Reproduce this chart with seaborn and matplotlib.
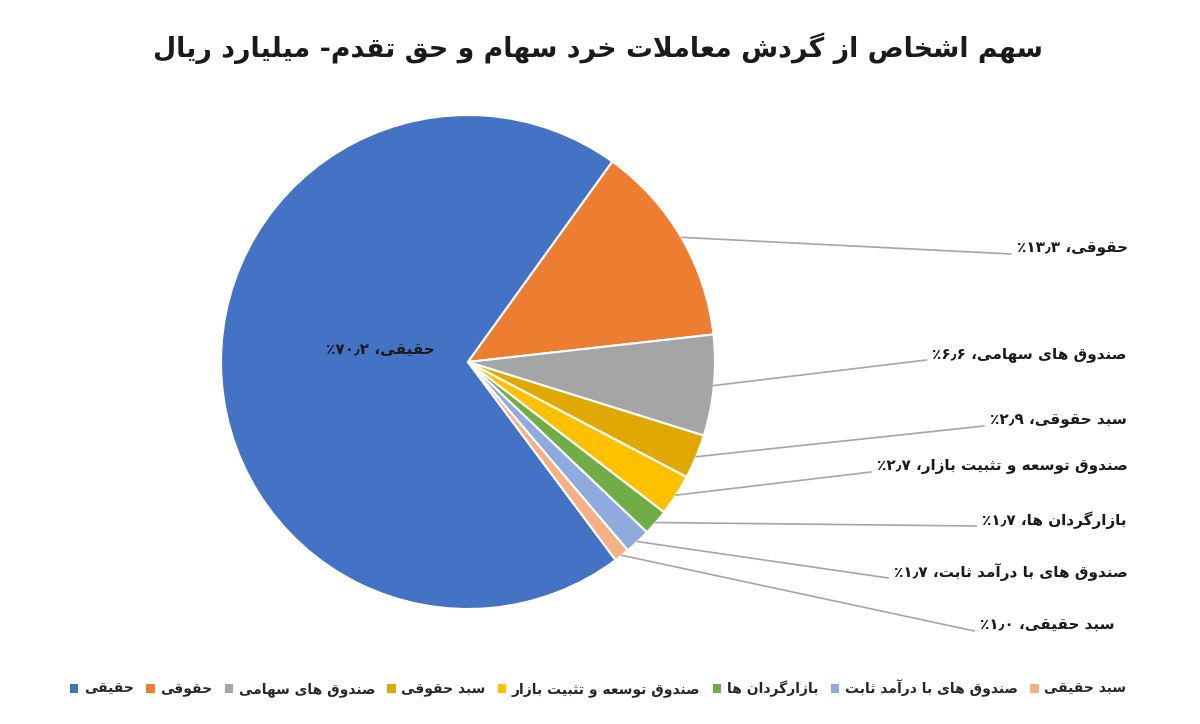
import re
import matplotlib
matplotlib.use("Agg")
import matplotlib.pyplot as plt
from matplotlib.patches import Patch
import numpy as np
import seaborn as sns

# --- data ---------------------------------------------------------------
title = "سهم اشخاص از گردش معاملات خرد سهام و حق تقدم- میلیارد ریال"
categories = ["حقیقی", "حقوقی", "صندوق های سهامی", "سبد حقوقی",
              "صندوق توسعه و تثبیت بازار", "بازارگردان ها",
              "صندوق های با درآمد ثابت", "سبد حقیقی"]
shares = [70.2, 13.3, 6.6, 2.9, 2.7, 1.7, 1.7, 1.0]
colors = ["#4472C4", "#ED7D31", "#A5A5A5", "#E0A800",
          "#FFC000", "#70AD47", "#8FAADC", "#F4B183"]

# label layout for the outer labels (pixel y from the top, right edge x)
label_y = [248, 354, 420, 466, 520, 572, 625]
label_right = [1128, 1127, 1127, 1128, 1127, 1128, 1115]

W, H = 1200, 724

# --- minimal arabic/persian shaping (matplotlib has no bidi/shaping) ----
DUAL = {'ب': 0xFE8F, 'پ': 0xFB56, 'ت': 0xFE95, 'ث': 0xFE99, 'ج': 0xFE9D,
        'چ': 0xFB7A, 'ح': 0xFEA1, 'خ': 0xFEA5, 'س': 0xFEB1, 'ش': 0xFEB5,
        'ص': 0xFEB9, 'ض': 0xFEBD, 'ط': 0xFEC1, 'ظ': 0xFEC5, 'ع': 0xFEC9,
        'غ': 0xFECD, 'ف': 0xFED1, 'ق': 0xFED5, 'ک': 0xFB8E, 'گ': 0xFB92,
        'ل': 0xFEDD, 'م': 0xFEE1, 'ن': 0xFEE5, 'ه': 0xFEE9, 'ی': 0xFBFC}
RIGHT = {'ا': 0xFE8D, 'آ': 0xFE81, 'د': 0xFEA9, 'ذ': 0xFEAB, 'ر': 0xFEAD,
         'ز': 0xFEAF, 'ژ': 0xFB8A, 'و': 0xFEED}


def shape(s):
    out = []
    i = 0
    while i < len(s):
        c = s[i]
        prev_join = i > 0 and s[i - 1] in DUAL
        if c == 'ل' and i + 1 < len(s) and s[i + 1] in ('ا', 'آ'):
            out.append(chr(0xFEFC if prev_join else 0xFEFB))
            i += 2
            continue
        if c in DUAL:
            next_join = i + 1 < len(s) and (s[i + 1] in DUAL or s[i + 1] in RIGHT)
            off = {(False, False): 0, (True, False): 1,
                   (False, True): 2, (True, True): 3}[(prev_join, next_join)]
            out.append(chr(DUAL[c] + off))
        elif c in RIGHT:
            out.append(chr(RIGHT[c] + (1 if prev_join else 0)))
        else:
            out.append(c)
        i += 1
    return ''.join(out)


def rtl(s):
    vis = shape(s)[::-1]
    return re.sub(r'[۰-۹٫]+', lambda m: m.group(0)[::-1], vis)


def fa_num(v):
    return f"{v:.1f}".translate(str.maketrans("0123456789.", "۰۱۲۳۴۵۶۷۸۹٫"))


sns.set_theme(style="white")
plt.rcParams['font.family'] = ['DejaVu Sans']

fig = plt.figure(figsize=(W / 100, H / 100), dpi=100)
ax = fig.add_axes([0, 0, 1, 1])

cx, cy, r = 468, H - 362, 247
wedges, _ = ax.pie(shares, colors=sns.color_palette(colors), startangle=90 - 143.3,
                   counterclock=False, center=(cx, cy), radius=r,
                   wedgeprops=dict(edgecolor="white", linewidth=1.5))
ax.set_xlim(0, W)
ax.set_ylim(0, H)
ax.set_aspect('equal')
ax.axis('off')

# inside label for the big slice
ax.text(380, H - 350, rtl(f"{categories[0]}، {fa_num(shares[0])}٪"),
        ha='center', va='center', fontsize=11, fontweight='bold', color='#1a1a1a')

# outer labels with leader lines
texts = []
for k in range(1, len(shares)):
    t = ax.text(label_right[k - 1], H - label_y[k - 1],
                rtl(f"{categories[k]}، {fa_num(shares[k])}٪"),
                ha='right', va='center', fontsize=11, fontweight='bold', color='#1a1a1a')
    texts.append(t)

fig.canvas.draw()
renderer = fig.canvas.get_renderer()
for k, t in enumerate(texts, start=1):
    w = wedges[k]
    mid = np.deg2rad((w.theta1 + w.theta2) / 2)
    x0, y0 = cx + r * np.cos(mid), cy + r * np.sin(mid)
    bb = t.get_window_extent(renderer)
    x1, y1 = bb.x0 - 6, H - label_y[k - 1] - 6
    ax.plot([x0, x1], [y0, y1], color='#a6a6a6', lw=1.2)

fig.text(598 / W, 1 - 48 / H, rtl(title), ha='center', va='center',
         fontsize=19.3, fontweight='bold', color='#1a1a1a')

handles = [Patch(facecolor=c, edgecolor='none') for c in colors]
labels = [rtl(c) for c in categories]
fig.legend(handles, labels, loc='center', bbox_to_anchor=(598 / W, 1 - 688 / H),
           ncol=8, frameon=False, handlelength=0.6, handleheight=0.6,
           handletextpad=0.4, columnspacing=0.9, prop=dict(size=10, weight='bold'))

fig.savefig("out.png", dpi=100, facecolor='white')
